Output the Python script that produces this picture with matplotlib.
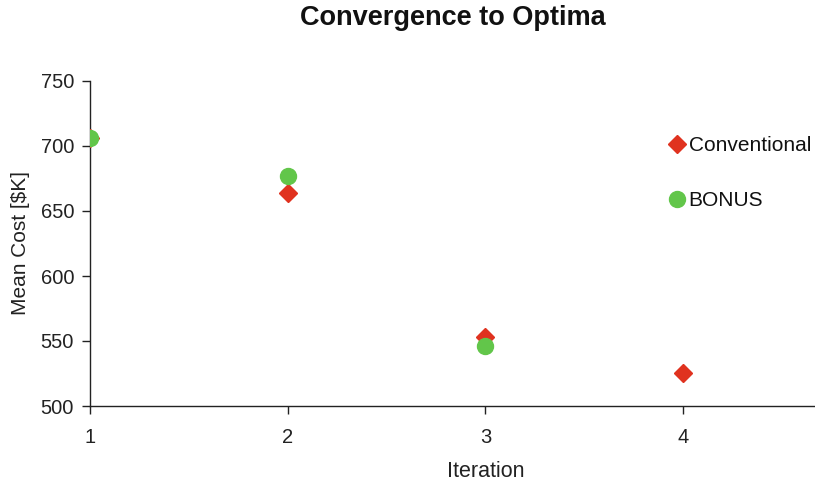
import matplotlib
matplotlib.use("Agg")
import matplotlib.pyplot as plt

plt.rcParams['font.family'] = ['Liberation Sans', 'DejaVu Sans']

iterations_conv = [1, 2, 3, 4]
cost_conv = [706.5, 663.5, 553, 525]
iterations_bonus = [1, 2, 3]
cost_bonus = [706.5, 677, 546]

yticks = [500, 550, 600, 650, 700, 750]
xticks = [1, 2, 3, 4]

fig = plt.figure(figsize=(8.15, 4.88), dpi=100)
ax = fig.add_axes([90 / 815, 1 - 406 / 488, 725 / 815, 325 / 488])

ax.plot(iterations_conv, cost_conv, linestyle='none', marker='D', markersize=9,
        color='#e0321f', label='Conventional', zorder=3)
ax.plot(iterations_bonus, cost_bonus, linestyle='none', marker='o', markersize=11.5,
        color='#62c64a', label='BONUS', zorder=4)

ax.set_xlim(1, 4.667)
ax.set_ylim(500, 750)
ax.set_xticks(xticks)
ax.set_yticks(yticks)
ax.tick_params(axis='both', direction='out', length=5.5, width=1, labelsize=14.5,
               colors='#222222')
ax.tick_params(axis='x', pad=10.5)
ax.tick_params(axis='y', pad=6)
for side in ('top', 'right'):
    ax.spines[side].set_visible(False)
for side in ('left', 'bottom'):
    ax.spines[side].set_color('#222222')
    ax.spines[side].set_linewidth(1)

fig.text((90 + 725 * 0.5) / 815, 1 - 18 / 488, 'Convergence to Optima',
         fontsize=19.5, fontweight='bold', ha='center', va='center', color='#111111')
ax.set_xlabel('Iteration', fontsize=15.5, color='#222222')
ax.xaxis.set_label_coords(0.546, -0.17)
ax.set_ylabel('Mean Cost [$K]', fontsize=15, color='#222222')
ax.yaxis.set_label_coords(-0.083, 0.5)

leg = ax.legend(loc='upper left', bbox_to_anchor=(0.784, 0.855), frameon=False,
                fontsize=15, labelspacing=1.7, handletextpad=0.05,
                handlelength=1.0, markerscale=1.0, borderaxespad=0)
for t in leg.get_texts():
    t.set_color('#111111')

fig.savefig('out.png', dpi=100)
